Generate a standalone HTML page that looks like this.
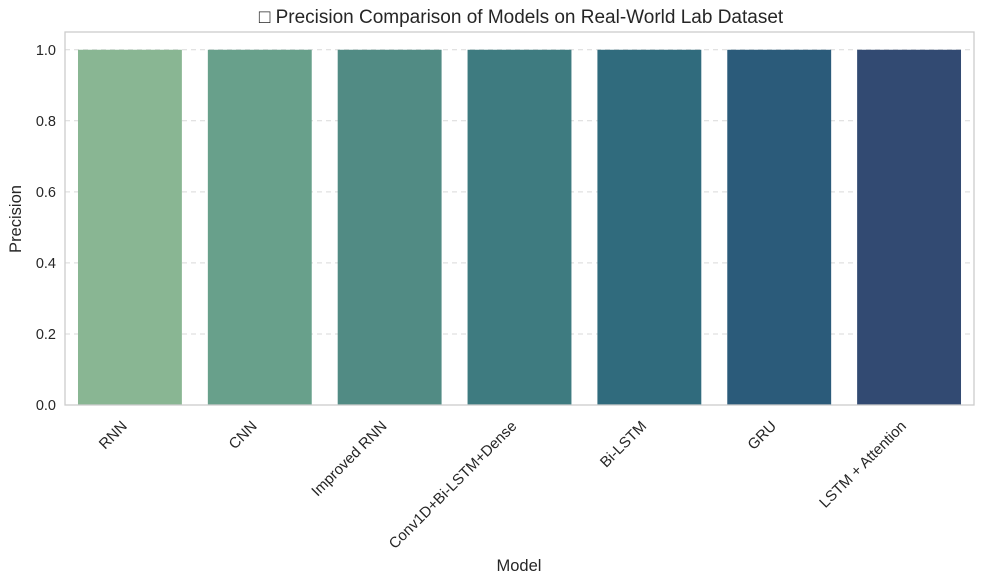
<!DOCTYPE html>
<html><head><meta charset="utf-8"><style>
html,body{margin:0;padding:0;background:#fff;}
svg{display:block;font-family:"Liberation Sans","DejaVu Sans",sans-serif;}
</style></head><body>
<svg id="chart" width="984" height="584" viewBox="0 0 984 584">
<text x="521" y="23" text-anchor="middle" font-size="19" fill="#262626">□ Precision Comparison of Models on Real-World Lab Dataset</text>
<g id="grid"></g>
<g id="bars"></g>
<rect x="65" y="32" width="909" height="373" fill="none" stroke="#cccccc" stroke-width="1.3"/>
<g id="yticks"></g>
<g id="xticks"></g>
<text x="21" y="219" text-anchor="middle" font-size="16.5" fill="#262626" transform="rotate(-90 21 219)">Precision</text>
<text x="519" y="571" text-anchor="middle" font-size="16.5" fill="#262626">Model</text>
</svg>
<script>
const categories = ["RNN","CNN","Improved RNN","Conv1D+Bi-LSTM+Dense","Bi-LSTM","GRU","LSTM + Attention"];
const precision = [1.0,1.0,1.0,1.0,1.0,1.0,1.0];
const yTicks = [0.0,0.2,0.4,0.6,0.8,1.0];
const colors = ["#89b693","#68a08b","#518b84","#3e7b80","#306b7d","#2b5b7a","#324a72"];
const NS="http://www.w3.org/2000/svg";
const L=65,R=974,T=32,B=405,yMax=1.05;
const y=v=>B-(v/yMax)*(B-T);
const band=(R-L)/categories.length;
const xc=i=>L+band*(i+0.5);
const bw=band*0.8;
const grid=document.getElementById('grid'),yt=document.getElementById('yticks'),xt=document.getElementById('xticks'),bars=document.getElementById('bars');
yTicks.forEach(t=>{
  const ln=document.createElementNS(NS,'line');
  
  
  ln.setAttribute('x1',L);ln.setAttribute('x2',R);ln.setAttribute('y1',y(t));ln.setAttribute('y2',y(t));
  ln.setAttribute('stroke','#d9d9d9');ln.setAttribute('stroke-dasharray','5,4');ln.setAttribute('stroke-width','1');
  grid.appendChild(ln);
  const tx=document.createElementNS(NS,'text');
  
  
  tx.setAttribute('x',L-9);tx.setAttribute('y',y(t)+5);tx.setAttribute('text-anchor','end');
  tx.setAttribute('font-size','14.5');tx.setAttribute('fill','#262626');
  tx.textContent=t.toFixed(1);yt.appendChild(tx);
});
categories.forEach((c,i)=>{
  const r=document.createElementNS(NS,'rect');
  
  
  r.setAttribute('x',xc(i)-bw/2);r.setAttribute('width',bw);
  r.setAttribute('y',y(precision[i]));r.setAttribute('height',B-y(precision[i]));
  r.setAttribute('fill',colors[i]);
  bars.appendChild(r);
  const tx=document.createElementNS(NS,'text');
  
  
  const ax=xc(i)-2,ay=427;
  tx.setAttribute('x',ax);tx.setAttribute('y',ay);tx.setAttribute('text-anchor','end');
  tx.setAttribute('font-size','15');tx.setAttribute('fill','#262626');
  tx.setAttribute('transform','rotate(-45 '+ax+' '+ay+')');
  tx.textContent=c;xt.appendChild(tx);
});
</script>
</body></html>
